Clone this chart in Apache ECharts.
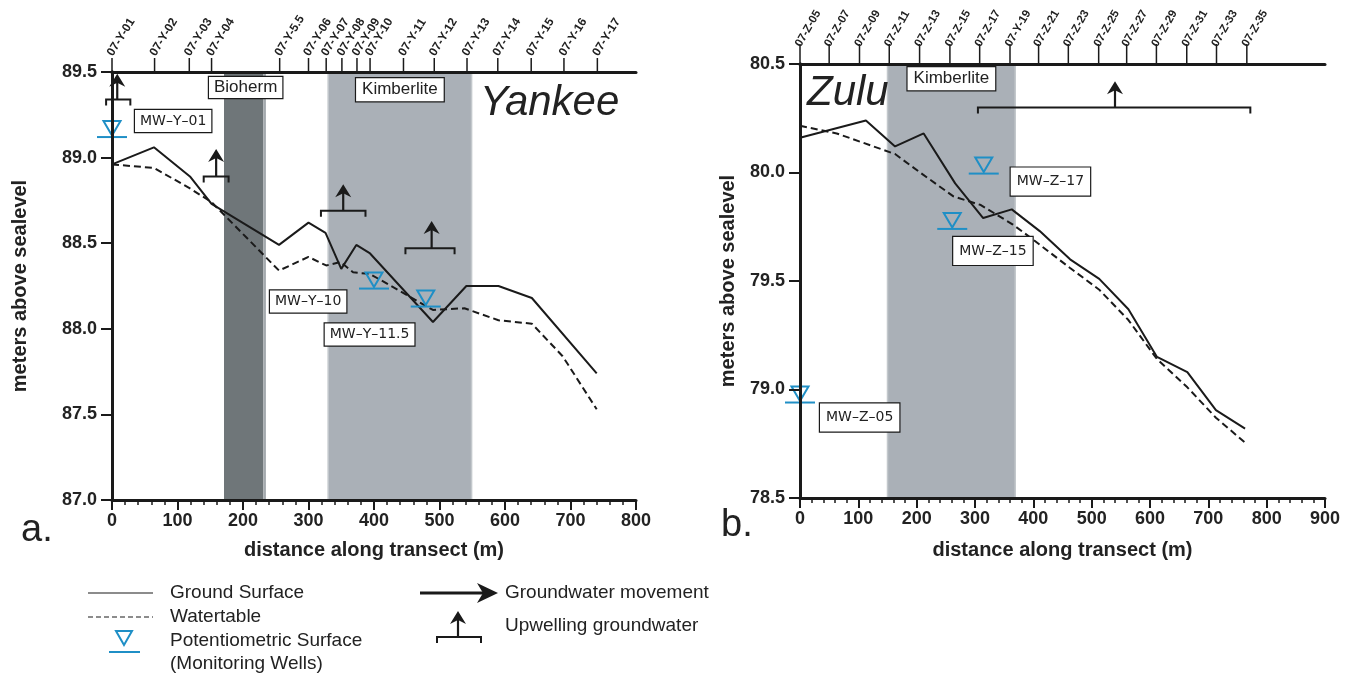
<!DOCTYPE html>
<html><head><meta charset="utf-8">
<script src="https://cdn.jsdelivr.net/npm/echarts@6.0.0/dist/echarts.min.js"></script>
<style>html,body{margin:0;padding:0;background:#fff}#c{width:1354px;height:675px}</style>
</head><body><div id="c"></div>
<script>
// ---------- DATA ----------
// Yankee transect (panel a)
const yankeeWellIds = ['07-Y-01','07-Y-02','07-Y-03','07-Y-04','07-Y-5.5','07-Y-06','07-Y-07','07-Y-08','07-Y-09','07-Y-10','07-Y-11','07-Y-12','07-Y-13','07-Y-14','07-Y-15','07-Y-16','07-Y-17'];
const yankeeWellDist = [0,65,118,152,256,300,327,351,374,394,445,492,542,589,640,690,741];
const yankeeGroundDist = [0,64,119,152,255,300,326,350,373,394,490,541,590,641,740];
const yankeeGround = [88.96,89.06,88.89,88.73,88.49,88.62,88.56,88.35,88.49,88.44,88.04,88.25,88.25,88.18,87.74];
const yankeeWaterDist = [0,64,119,152,255,300,327,349,368,394,490,538,590,641,688,740];
const yankeeWater = [88.96,88.94,88.82,88.74,88.34,88.42,88.37,88.39,88.33,88.32,88.11,88.12,88.05,88.03,87.84,87.53];
const yankeeMonNames = ['MW\u2013Y\u201301','MW\u2013Y\u201310','MW\u2013Y\u201311.5'];
const yankeeMonDist = [0,400,479];
const yankeeMonLevel = [89.12,88.235,88.13];
const yankeeUpCenter = [8,159,353,488];
const yankeeUpLeft = [-9,140,319,448];
const yankeeUpRight = [28,178,387,523];
const yankeeUpBase = [89.34,88.89,88.69,88.47];
const yankeeUpTip = [89.49,89.05,88.845,88.63];
const yankeeBioherm = [171,231];
const yankeeBiohermEdge = [231,235];
const yankeeKimberlite = [330,549];
const yankeeYTicks = [87.0,87.5,88.0,88.5,89.0,89.5];

// Zulu transect (panel b)
const zuluWellIds = ['07-Z-05','07-Z-07','07-Z-09','07-Z-11','07-Z-13','07-Z-15','07-Z-17','07-Y-19','07-Z-21','07-Z-23','07-Z-25','07-Z-27','07-Z-29','07-Z-31','07-Z-33','07-Z-35'];
const zuluWellDist = [0,50,102,153,205,257,308,360,409,460,512,560,611,663,714,766];
const zuluGroundDist = [0,113,163,212,266,314,363,411,463,513,563,612,664,713,763];
const zuluGround = [80.16,80.24,80.12,80.18,79.95,79.79,79.83,79.73,79.60,79.51,79.37,79.15,79.08,78.905,78.82];
const zuluWaterDist = [0,63,163,211,263,310,365,400,463,513,563,612,664,713,763];
const zuluWater = [80.215,80.18,80.085,79.99,79.89,79.85,79.76,79.69,79.56,79.46,79.32,79.14,79.01,78.87,78.755];
const zuluMonNames = ['MW\u2013Z\u201305','MW\u2013Z\u201315','MW\u2013Z\u201317'];
const zuluMonDist = [0,261,315];
const zuluMonLevel = [78.94,79.74,79.995];
const zuluUpCenter = [540];
const zuluUpLeft = [305];
const zuluUpRight = [772];
const zuluUpBase = [80.30];
const zuluUpTip = [80.42];
const zuluKimberlite = [150,369];
const zuluYTicks = [78.5,79.0,79.5,80.0,80.5];

// ---------- STYLE / LAYOUT ----------
const INK = '#1a1a1a', TXT = '#222', BLUE = '#1f8fc6';
const FONT = '"Liberation Sans", Arial, sans-serif';
const yankeeLabelOffset = [[23,-27],[-104,2],[-101,17]];
const zuluLabelOffset = [[20,1],[1,8],[27,-6]];

const zip = (a,b) => a.map((v,i)=>[v,b[i]]);

function wellRender(names, offsets, pad) {
  return function(params, api) {
    const p = api.coord([api.value(0), api.value(1)]);
    const i = api.value(2);
    const x = p[0], y = p[1];
    return {type:'group', children:[
      {type:'polygon', shape:{points:[[x-8.5,y-16],[x+8.5,y-16],[x,y-1.5]]}, style:{fill:'none', stroke:BLUE, lineWidth:2}},
      {type:'line', shape:{x1:x-15,y1:y,x2:x+15,y2:y}, style:{stroke:BLUE, lineWidth:2}},
      {type:'text', x:x+offsets[i][0], y:y+offsets[i][1], style:{text:names[i], font:'14px "DejaVu Sans", sans-serif', fill:TXT,
        backgroundColor:'#fff', borderColor:INK, borderWidth:1.2, padding:pad, align:'left', verticalAlign:'top'}}
    ]};
  };
}
function upRender(params, api) {
  const xc=api.value(0), yb=api.value(1), xl=api.value(2), xr=api.value(3), yt=api.value(4);
  const pc=api.coord([xc,yb]), pl=api.coord([xl,yb]), pr=api.coord([xr,yb]), pt=api.coord([xc,yt]);
  const tx=pt[0], ty=pt[1];
  return {type:'group', children:[
    {type:'polyline', shape:{points:[[pl[0],pl[1]+6],[pl[0],pl[1]],[pr[0],pr[1]],[pr[0],pr[1]+6]]}, style:{stroke:INK, lineWidth:2, fill:'none'}},
    {type:'line', shape:{x1:pc[0],y1:pc[1],x2:tx,y2:ty+8}, style:{stroke:INK, lineWidth:2.2}},
    {type:'polygon', shape:{points:[[tx,ty],[tx+8,ty+13],[tx,ty+9],[tx-8,ty+13]]}, style:{fill:INK}}
  ]};
}
function topRender(names, yTop, tickLen, dx, dy, rotDeg, fsize) {
  return function(params, api) {
    const p = api.coord([api.value(0), yTop]);
    const i = api.value(2);
    return {type:'group', children:[
      {type:'line', shape:{x1:p[0],y1:p[1],x2:p[0],y2:p[1]-tickLen}, style:{stroke:INK, lineWidth:1.5}},
      {type:'text', x:p[0]+dx, y:p[1]-tickLen+dy, rotation:rotDeg*Math.PI/180,
        style:{text:names[i], font:'bold '+fsize+'px '+FONT, fill:TXT, align:'left', verticalAlign:'middle'}}
    ]};
  };
}

const axisLineStyle = {lineStyle:{color:INK, width:3}};
function bottomAxis(grid, max, gap) {
  return {type:'value', gridIndex:grid, position:'bottom', min:0, max:max, interval:100, z:10,
    axisLine:axisLineStyle, axisTick:{length:10, lineStyle:{color:INK, width:2}},
    minorTick:{show:true, splitNumber:5, length:5, lineStyle:{color:INK, width:1.5}},
    splitLine:{show:false}, minorSplitLine:{show:false},
    axisLabel:{fontSize:18, fontWeight:'bold', color:TXT, fontFamily:FONT, margin:12},
    name:'distance along transect (m)', nameLocation:'middle', nameGap:gap,
    nameTextStyle:{fontSize:20, fontWeight:'bold', color:TXT, fontFamily:FONT}};
}
function topAxis(grid, max) {
  return {type:'value', gridIndex:grid, position:'top', min:0, max:max, z:10,
    axisLine:axisLineStyle, axisTick:{show:false}, axisLabel:{show:false}, splitLine:{show:false}};
}
function leftAxis(grid, ticks, gap) {
  return {type:'value', gridIndex:grid, position:'left', min:ticks[0], max:ticks[ticks.length-1], interval:0.5, z:10,
    axisLine:axisLineStyle, axisTick:{length:11, lineStyle:{color:INK, width:2}}, splitLine:{show:false},
    axisLabel:{fontSize:18, fontWeight:'bold', color:TXT, fontFamily:FONT, margin:15, formatter:v=>v.toFixed(1)},
    name:'meters above sealevel', nameLocation:'middle', nameGap:gap,
    nameTextStyle:{fontSize:20, fontWeight:'bold', color:TXT, fontFamily:FONT}};
}
function rightAxis(grid, ticks) {
  return {type:'value', gridIndex:grid, position:'right', min:ticks[0], max:ticks[ticks.length-1], z:10,
    axisLine:axisLineStyle, axisTick:{show:false}, axisLabel:{show:false}, splitLine:{show:false}};
}
const boxLabel = (dist, pad) => ({show:true, position:'insideTop', distance:dist, color:TXT, fontSize:17, fontFamily:FONT,
  backgroundColor:'#fff', borderColor:INK, borderWidth:1.2, padding:pad});

const option = {
  animation:false,
  backgroundColor:'#fff',
  grid:[{left:112, top:72, width:524, height:428}, {left:800, top:64, width:525, height:434}],
  xAxis:[bottomAxis(0,800,40), topAxis(0,800), bottomAxis(1,900,42), topAxis(1,900)],
  yAxis:[leftAxis(0,yankeeYTicks,82), rightAxis(0,yankeeYTicks), leftAxis(1,zuluYTicks,62), rightAxis(1,zuluYTicks)],
  series:[
    {type:'line', xAxisIndex:0, yAxisIndex:0, data:[], z:1, silent:true,
      markArea:{silent:true, data:[
        [{name:'Bioherm', xAxis:yankeeBioherm[0], itemStyle:{color:'#6f7679'}, label:Object.assign(boxLabel(5,[2,5]),{offset:[2,0]})}, {xAxis:yankeeBioherm[1]}],
        [{name:'', xAxis:yankeeBiohermEdge[0], itemStyle:{color:'#a4aaae'}, label:{show:false}}, {xAxis:yankeeBiohermEdge[1]}],
        [{name:'Kimberlite', xAxis:yankeeKimberlite[0], itemStyle:{color:'#aab0b7', borderColor:'#c3c8cc', borderWidth:1.5}, label:boxLabel(7,[3,6])}, {xAxis:yankeeKimberlite[1]}]
      ]}},
    {type:'line', xAxisIndex:2, yAxisIndex:2, data:[], z:1, silent:true,
      markArea:{silent:true, data:[
        [{name:'Kimberlite', xAxis:zuluKimberlite[0], itemStyle:{color:'#aab0b7', borderColor:'#c3c8cc', borderWidth:1.5}, label:boxLabel(4,[3,6])}, {xAxis:zuluKimberlite[1]}]
      ]}},
    {name:'Ground Surface', type:'line', xAxisIndex:0, yAxisIndex:0, data:zip(yankeeGroundDist,yankeeGround), showSymbol:false, z:3,
      lineStyle:{color:INK, width:2}},
    {name:'Watertable', type:'line', xAxisIndex:0, yAxisIndex:0, data:zip(yankeeWaterDist,yankeeWater), showSymbol:false, z:3,
      lineStyle:{color:INK, width:2, type:[7,4]}},
    {name:'Ground Surface Z', type:'line', xAxisIndex:2, yAxisIndex:2, data:zip(zuluGroundDist,zuluGround), showSymbol:false, z:3,
      lineStyle:{color:INK, width:2}},
    {name:'Watertable Z', type:'line', xAxisIndex:2, yAxisIndex:2, data:zip(zuluWaterDist,zuluWater), showSymbol:false, z:3,
      lineStyle:{color:INK, width:2, type:[7,4]}},
    {type:'custom', xAxisIndex:0, yAxisIndex:0, z:6, renderItem:wellRender(yankeeMonNames,yankeeLabelOffset,[4,5]),
      data:yankeeMonDist.map((d,i)=>[d,yankeeMonLevel[i],i])},
    {type:'custom', xAxisIndex:2, yAxisIndex:2, z:6, renderItem:wellRender(zuluMonNames,zuluLabelOffset,[7,6]),
      data:zuluMonDist.map((d,i)=>[d,zuluMonLevel[i],i])},
    {type:'custom', xAxisIndex:0, yAxisIndex:0, z:5, renderItem:upRender,
      data:yankeeUpCenter.map((c,i)=>[c,yankeeUpBase[i],yankeeUpLeft[i],yankeeUpRight[i],yankeeUpTip[i]])},
    {type:'custom', xAxisIndex:2, yAxisIndex:2, z:5, renderItem:upRender,
      data:zuluUpCenter.map((c,i)=>[c,zuluUpBase[i],zuluUpLeft[i],zuluUpRight[i],zuluUpTip[i]])},
    {type:'custom', xAxisIndex:0, yAxisIndex:0, z:5, renderItem:topRender(yankeeWellIds,89.5,14,-2,-3,58,12),
      data:yankeeWellDist.map((d,i)=>[d,89.5,i])},
    {type:'custom', xAxisIndex:2, yAxisIndex:2, z:5, renderItem:topRender(zuluWellIds,80.5,20,-2,2,60,11.5),
      data:zuluWellDist.map((d,i)=>[d,80.5,i])}
  ],
  graphic:[
    {type:'text', x:480, y:82, style:{text:'Yankee', font:'italic 42px '+FONT, fill:TXT, align:'left', verticalAlign:'top'}, z:20},
    {type:'text', x:807, y:72, style:{text:'Zulu', font:'italic 42px '+FONT, fill:TXT, align:'left', verticalAlign:'top'}, z:20},
    {type:'text', x:21, y:512, style:{text:'a.', font:'38px '+FONT, fill:TXT, align:'left', verticalAlign:'top'}},
    {type:'text', x:721, y:507, style:{text:'b.', font:'38px '+FONT, fill:TXT, align:'left', verticalAlign:'top'}},
    // legend
    {type:'line', shape:{x1:88,y1:593,x2:153,y2:593}, style:{stroke:INK, lineWidth:1.2}},
    {type:'text', x:170, y:593, style:{text:'Ground Surface', font:'19px '+FONT, fill:TXT, align:'left', verticalAlign:'middle'}},
    {type:'line', shape:{x1:88,y1:617,x2:153,y2:617}, style:{stroke:INK, lineWidth:1.2, lineDash:[5,3]}},
    {type:'text', x:170, y:617, style:{text:'Watertable', font:'19px '+FONT, fill:TXT, align:'left', verticalAlign:'middle'}},
    {type:'polygon', shape:{points:[[116,631],[132,631],[124,645]]}, style:{fill:'none', stroke:BLUE, lineWidth:2}},
    {type:'line', shape:{x1:109,y1:652,x2:140,y2:652}, style:{stroke:BLUE, lineWidth:2}},
    {type:'text', x:170, y:641, style:{text:'Potentiometric Surface', font:'19px '+FONT, fill:TXT, align:'left', verticalAlign:'middle'}},
    {type:'text', x:170, y:664, style:{text:'(Monitoring Wells)', font:'19px '+FONT, fill:TXT, align:'left', verticalAlign:'middle'}},
    {type:'line', shape:{x1:420,y1:593,x2:484,y2:593}, style:{stroke:INK, lineWidth:3}},
    {type:'polygon', shape:{points:[[498,593],[477,583],[483,593],[477,603]]}, style:{fill:INK}},
    {type:'text', x:505, y:593, style:{text:'Groundwater movement', font:'19px '+FONT, fill:TXT, align:'left', verticalAlign:'middle'}},
    {type:'polyline', shape:{points:[[437,643],[437,637],[481,637],[481,643]]}, style:{stroke:INK, lineWidth:2, fill:'none'}},
    {type:'line', shape:{x1:458,y1:637,x2:458,y2:620}, style:{stroke:INK, lineWidth:2.2}},
    {type:'polygon', shape:{points:[[458,611],[466,624],[458,620],[450,624]]}, style:{fill:INK}},
    {type:'text', x:505, y:626, style:{text:'Upwelling groundwater', font:'19px '+FONT, fill:TXT, align:'left', verticalAlign:'middle'}}
  ]
};
const chart = echarts.init(document.getElementById('c'));
chart.setOption(option);
</script></body></html>
